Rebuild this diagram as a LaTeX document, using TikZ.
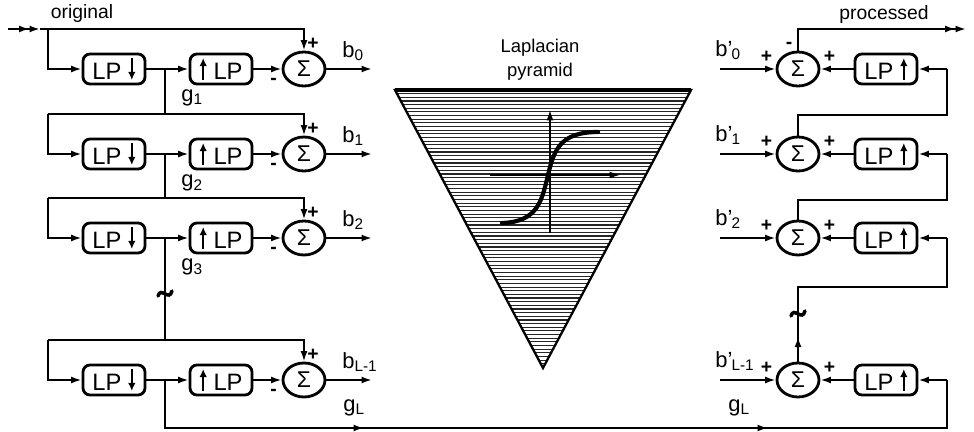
\documentclass[tikz,border=0pt]{standalone}
\usepackage{fontspec}
\setmainfont{Liberation Sans}
\usetikzlibrary{arrows.meta,shapes.geometric,calc}
\newcommand{\dnarr}{\tikz[baseline=0pt]\draw[-{Latex[length=1.6mm,width=1.5mm]},line width=1.3pt] (0,1.75ex) -- (0,0);}
\newcommand{\uparr}{\tikz[baseline=0pt]\draw[-{Latex[length=1.6mm,width=1.5mm]},line width=1.3pt] (0,0) -- (0,1.75ex);}
\newcommand{\bprime}[1]{b'\kern-0.5pt\textsubscript{#1}}

\begin{document}
\begin{tikzpicture}[
    x=0.02cm, y=-0.02cm,
    >={Latex[length=2.1mm,width=1.4mm]},
    dbl/.style={-{Latex[length=2.1mm,width=1.4mm]Latex[length=2.1mm,width=1.4mm]}},
    wire/.style={draw=black, line width=1.1pt},
    lpbox/.style={draw=black, line width=1.6pt, rounded corners=4pt, minimum width=1.24cm,
      minimum height=0.6cm, inner sep=0pt, font=\fontsize{13.5}{14}\selectfont},
    adder/.style={ellipse, draw=black, line width=1.6pt, minimum width=0.84cm,
      minimum height=0.68cm, inner sep=0pt, font=\fontsize{13}{14}\selectfont},
    lbl/.style={font=\fontsize{12.5}{13}\selectfont, inner sep=0pt},
    sgn/.style={font=\fontsize{11}{11}\selectfont\bfseries, inner sep=0pt},
    tag/.style={font=\fontsize{11}{12}\selectfont, inner sep=0pt},
    hatch/.style={draw=black!85, line width=0.65pt},
    brk/.style={line width=2pt, line cap=round},
  ]
  \useasboundingbox (0,0) rectangle (974,432);

  %% ================= analysis: the original is split into bands =================
  \node[tag] (orig) at (82,14) {original};
  \coordinate (in) at (8,29);
  \coordinate (ina) at (40,29);

  \foreach \r/\y/\n in {0/69/0, 1/154/1, 2/238/2, 3/380/{L-1}} {
    \node[lpbox] (dn\r) at (114,\y) {LP \dnarr};
    \node[lpbox] (up\r) at (221,\y) {\uparr\ LP};
    \node[adder] (sa\r) at (304,\y) {Σ};
    \coordinate (fl\r) at (48,\y-40);
    \coordinate (fr\r) at (sa\r.north |- fl\r);
    \coordinate (jn\r) at (165,\y);
    \coordinate (bo\r) at (372,\y);
    \draw[wire,->] (fl\r) |- (dn\r.west);
    \draw[wire,->] (dn\r) -- (up\r);
    \draw[wire,->] (up\r) -- (sa\r);
    \draw[wire,->] (fl\r) -- (fr\r) -- (sa\r.north);
    \draw[wire,->] (sa\r) -- (bo\r);
    \node[sgn] (sap\r) at ($(sa\r.north)+(9,-7)$) {+};
    \node[sgn] (sam\r) at ($(sa\r.west)+(-8,12)$) {-};
    \node[lbl, anchor=west] (bl\r) at (342,\y-18) {b\textsubscript{\n}};
  }
  \draw[wire,dbl] (in) -- (ina);
  \draw[wire] (ina) -- (fl0);

  % the low-pass images go down to the next level
  \draw[wire] (jn0) -- (jn0 |- fl1);
  \draw[wire] (jn1) -- (jn1 |- fl2);
  \draw[wire] (jn2) -- (jn2 |- fl3);
  \draw[brk] (158,296) .. controls (161,286) and (169,302) .. (172,291);
  \node[lbl, anchor=west] (g1) at (181,98)  {g\textsubscript{1}};
  \node[lbl, anchor=west] (g2) at (181,183) {g\textsubscript{2}};
  \node[lbl, anchor=west] (g3) at (181,267) {g\textsubscript{3}};

  %% ================= the pyramid and its point operation =================
  \node[tag, align=center, font=\fontsize{10.5}{13.6}\selectfont] (lap) at (540,60) {Laplacian\\pyramid};
  \coordinate (pl) at (395,90);
  \coordinate (pr) at (691,90);
  \coordinate (pb) at (543,368);
  \begin{scope}
    \clip (pl) -- (pr) -- (pb) -- cycle;
    \foreach \k in {0,...,76} { \draw[hatch] (395,{90+3.65*\k}) -- (691,{90+3.65*\k}); }
  \end{scope}
  \draw[line width=1.3pt, line join=miter] (pl) -- (pr) -- (pb) -- cycle;
  \draw[line width=2.2pt] (pl) -- (pr);
  \draw[line width=0.8pt,->] (550,233) -- (550,110);
  \draw[line width=0.8pt,->] (490,175) -- (620,175);
  \draw[line width=2.4pt, line cap=round] (502,223) .. controls (538,222) and (542,200) .. (548,175)
    .. controls (554,150) and (560,132) .. (598,132);

  %% ================= synthesis: the processed bands are added back =================
  \foreach \r/\y/\n in {0/69/0, 1/154/1, 2/238/2, 3/380/{L-1}} {
    \node[adder] (sb\r) at (798,\y) {Σ};
    \node[lpbox] (rp\r) at (886,\y) {LP \uparr};
    \coordinate (bi\r) at (720,\y);
    \coordinate (rr\r) at (947,\y);
    \draw[wire,->] (bi\r) -- (sb\r);
    \draw[wire,->] (rp\r) -- (sb\r);
    \draw[wire,->] (rr\r) -- (rp\r);
    \node[sgn] (sbl\r) at ($(sb\r.west)+(-9,-12)$) {+};
    \node[sgn] (sbr\r) at ($(sb\r.east)+(9,-12)$) {+};
    \node[lbl, anchor=west] (br\r) at (715,\y-19) {\bprime{\n}};
  }
  \node[sgn] (sbt0) at ($(sb0.north)+(-9,-5)$) {-};

  % each sum is expanded and fed to the level above
  \draw[wire] (sb1.north) |- ($(rr0)+(0,46)$) -- (rr0);
  \draw[wire] (sb2.north) |- ($(rr1)+(0,46)$) -- (rr1);
  \draw[wire] (sb3.north) |- ($(rr2)+(0,49)$) -- (rr2);
  \draw[wire,->] (sb3.north) -- ++(0,-25);
  \draw[brk] (791,316) .. controls (794,306) and (802,322) .. (805,311);

  \coordinate (pa) at (932,29);
  \coordinate (po) at (966,29);
  \draw[wire] (sb0.north) |- (pa);
  \draw[wire,dbl] (pa) -- (po);
  \node[tag] (proc) at (884,15) {processed};

  %% ================= the top level g_L goes straight across =================
  \coordinate (gb) at (165,428);
  \coordinate (gr) at (947,428);
  \draw[wire] (jn3) -- (gb) -- (gr) -- (rr3);
  \draw[wire,->] (gb) -- (364,428);
  \draw[wire,->] (gb) -- (768,428);
  \node[lbl, anchor=west] (gl) at (343,408) {g\textsubscript{L}};
  \node[lbl, anchor=west] (gr) at (728,408) {g\textsubscript{L}};
\end{tikzpicture}
\end{document}
